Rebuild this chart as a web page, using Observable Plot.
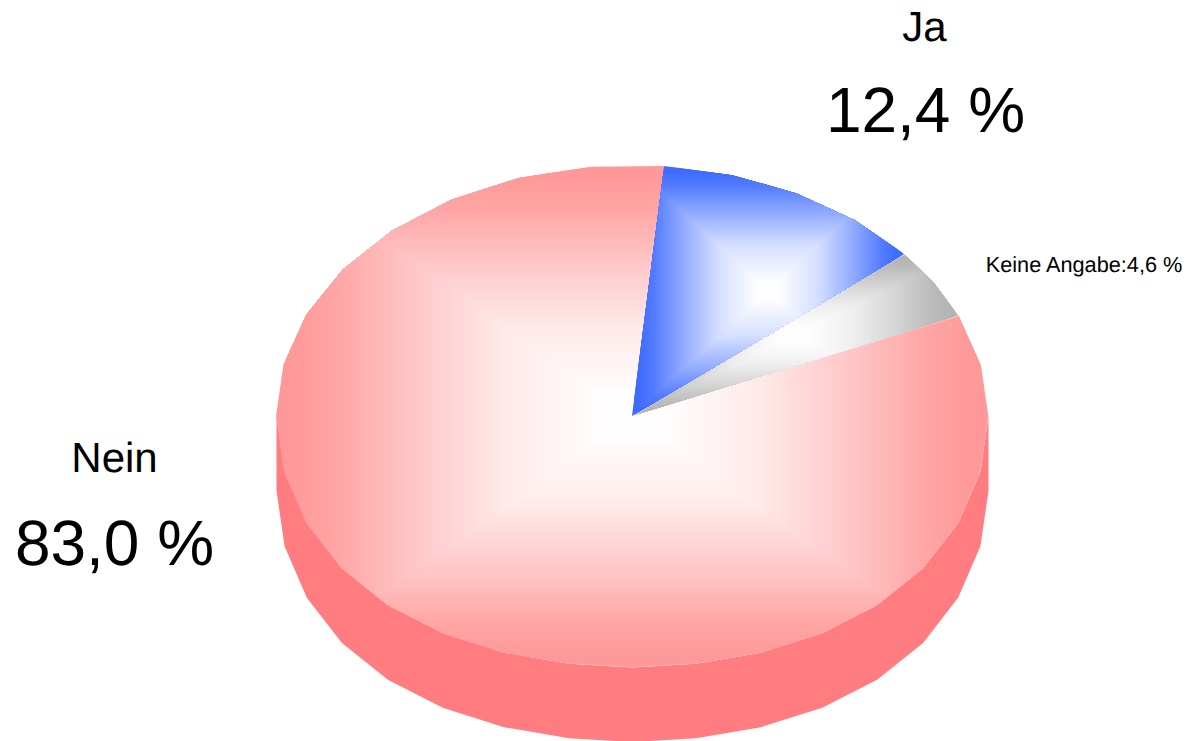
<!DOCTYPE html>
<html><head><meta charset="utf-8">
<style>html,body{margin:0;padding:0;background:#fff}svg{display:block}</style>
<script src="https://cdn.jsdelivr.net/npm/d3@7"></script>
<script src="https://cdn.jsdelivr.net/npm/@observablehq/plot@0.6"></script>
</head><body><div id="chart"></div>
<script>
// data
const categories = ["Nein", "Ja", "Keine Angabe"];
const percents = [83.0, 12.4, 4.6];
const startPercent = 100 * 5.2 / 360; // where "Ja" starts, clockwise from 12 o'clock
const order = ["Ja", "Keine Angabe", "Nein"];
const edgeColors = {"Nein": "#ff9999", "Ja": "#3f6cff", "Keine Angabe": "#b3b3b3"};
const underColors = {"Nein": "#ffb3b3", "Ja": "#ffffff", "Keine Angabe": "#ffffff"};
const sideColor = "#ff7c80";

// layout
const W = 1187, H = 741, cx = 632, cy = 416, rx = 356, ry = 251, depth = 74.5;
const BANDS = 80;
const fmt = v => v.toFixed(1).replace(".", ",") + " %";
const rad = d => d * Math.PI / 180;
const profile = d3.scaleLinear().domain([0, 0.1, 0.37, 0.65, 0.85, 0.96]).range([0, 0.02, 0.22, 0.6, 0.9, 1]).clamp(true);
const rim = deg => {
  const d = ((deg % 360) + 360) % 360;
  if (d > 90 && d < 270) { // lower half of the drawn rim is slightly fuller
    const a = d < 180 ? d - 90 : 270 - d; // angle below the horizontal
    const s2 = Math.sin(rad(2 * a));
    const ax = a + 1.6 * Math.sqrt(Math.max(0, s2));
    const ay = a + 3.8 * s2;
    const sign = d < 180 ? 1 : -1;
    return {x: cx + sign * rx * Math.cos(rad(ax)), y: cy + ry * Math.sin(rad(ay))};
  }
  return {x: cx + rx * Math.sin(rad(d)), y: cy - ry * Math.cos(rad(d))};
};
const arc = (a0, a1) => { // polygon vertices between two angles
  const stops = [a0];
  [90, 270, 450, 630].forEach(s => { if (s > a0 && s < a1) stops.push(s); });
  stops.push(a1);
  const out = [a0];
  for (let i = 0; i < stops.length - 1; i++) {
    const s = stops[i], e = stops[i + 1];
    const lower = (s % 360) >= 90 && (s % 360) < 270;
    const n = lower ? Math.ceil((e - s) / 11.25 - 1e-6) : Math.ceil((e - s) / 12);
    for (let k = 1; k <= n; k++) out.push(s + (e - s) * k / n);
  }
  return out;
};

let a = startPercent * 3.6;
const slices = order.map(name => {
  const sweep = percents[categories.indexOf(name)] * 3.6;
  const angles = arc(a, a + sweep);
  a += sweep;
  const pts = [{x: cx, y: cy}, ...angles.map(rim)];
  const x0 = d3.min(pts, d => d.x), x1 = d3.max(pts, d => d.x);
  const y0 = d3.min(pts, d => d.y), y1 = d3.max(pts, d => d.y);
  const bands = d3.range(BANDS, 0, -1).map(i => {
    const t = i / BANDS;
    const mx = (x0 + x1) / 2, my = (y0 + y1) / 2;
    return {
      x1: mx - (mx - x0) * t, x2: mx + (x1 - mx) * t,
      y1: my - (my - y0) * t, y2: my + (y1 - my) * t,
      color: d3.interpolateRgb("#ffffff", edgeColors[name])(profile(t))
    };
  });
  return {name, angles, pts, bands};
}).reverse();

// side wall: lower part of the whole rim, extruded
const nein = slices.find(s => s.name === "Nein");
const lowerRim = nein.angles.filter(d => d >= 90 && d <= 270).map(rim);
const wall = [...lowerRim, ...lowerRim.slice().reverse().map(p => ({x: p.x, y: p.y + depth}))];

const labels = [
  {text: "Ja", x: 924, y: 27, size: 42},
  {text: fmt(percents[1]), x: 925, y: 111, size: 64},
  {text: "Nein", x: 114, y: 458, size: 42},
  {text: fmt(percents[0]), x: 114, y: 544, size: 64},
  {text: categories[2] + ":" + fmt(percents[2]), x: 1083.5, y: 265, size: 21.7}
];

const plot = Plot.plot({
  width: W, height: H, margin: 0,
  x: {domain: [0, W], range: [0, W], axis: null},
  y: {domain: [0, H], range: [0, H], axis: null},
  style: {background: "#fff", fontFamily: "'Liberation Sans', Arial, sans-serif", textRendering: "geometricPrecision"},
  marks: [
    Plot.line(wall, {x: "x", y: "y", fill: sideColor, stroke: null, curve: "linear-closed"}),
    ...slices.flatMap(s => [
      Plot.line(s.pts, {x: "x", y: "y", fill: underColors[s.name], stroke: null, curve: "linear-closed"}),
      Plot.rect(s.bands, {x1: "x1", x2: "x2", y1: "y1", y2: "y2", fill: "color"})
    ]),
    Plot.text(labels, {x: "x", y: "y", text: "text", fontSize: "size", fill: "#000", textAnchor: "middle", lineAnchor: "middle"})
  ]
});

// clip each gradient to its slice outline (marks are the svg's <g> children, in order)
const root = d3.select(plot);
const groups = Array.from(plot.children).filter(n => n.tagName.toLowerCase() === "g");
const defs = root.insert("defs", ":first-child");
slices.forEach((s, i) => {
  const d = d3.select(groups[1 + 2 * i]).select("path").attr("d");
  defs.append("clipPath").attr("id", "clip" + i).append("path").attr("d", d);
  d3.select(groups[2 + 2 * i]).attr("clip-path", `url(#clip${i})`);
});
document.getElementById("chart").appendChild(plot);
</script></body></html>
